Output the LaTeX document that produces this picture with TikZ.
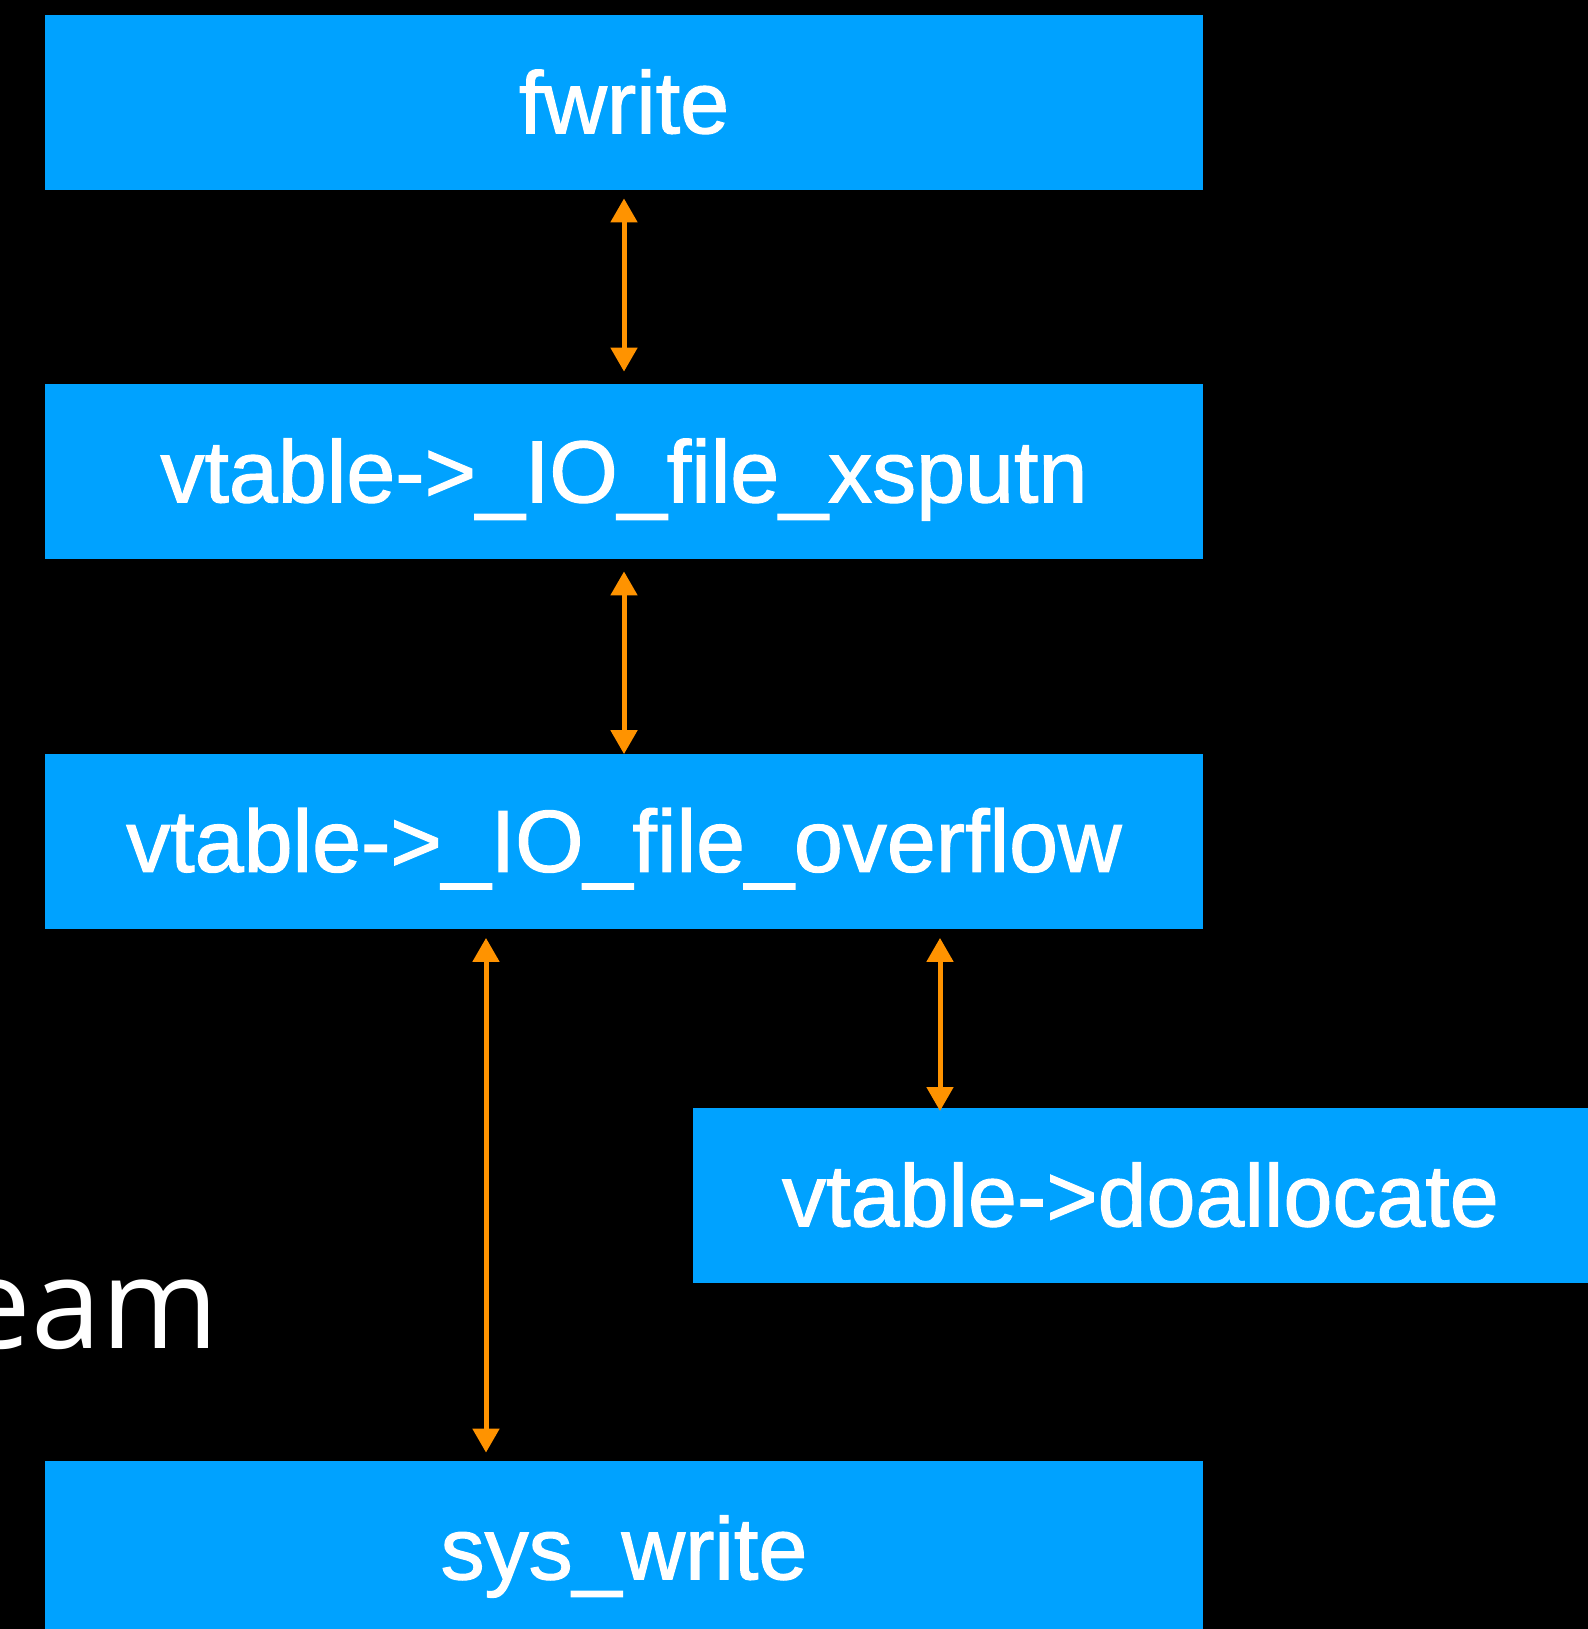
\documentclass[tikz,border=0pt]{standalone}
\usepackage{fontspec}
\setmainfont{Liberation Sans}[FakeBold=1.3]
\newfontfamily\streamfont{Open Sans}
\usepackage{tikz}
\usetikzlibrary{arrows.meta}
\definecolor{bleuK}{HTML}{00A2FF}
\definecolor{orangeK}{HTML}{FF9300}

\begin{document}
\begin{tikzpicture}[x=0.5pt, y=-0.5pt,
    box/.style={fill=bleuK, text=white, minimum width=579pt, minimum height=87.5pt,
        inner sep=0pt, text height=30.8pt, text depth=0pt, font=\fontsize{44}{44}\selectfont},
    link/.style={draw=orangeK, line width=2.5pt, {Triangle[width=13pt,length=12pt]}-{Triangle[width=13pt,length=12pt]}}]
    % Fond
    \fill[black] (0,0) rectangle (1588,1629);
    \useasboundingbox (0,0) rectangle (1588,1629);

    % Texte coupe a gauche
    \node[anchor=base east, inner sep=0pt, text=white, font=\streamfont\fontsize{63}{63}\selectfont] (stream) at (219,1348) {eam};

    % Boites
    \node[box] (fwrite) at (624,102.5) {fwrite};
    \node[box] (xsputn) at (624,471.5) {vtable->\_IO\_file\_xsputn};
    \node[box] (overflow) at (624,841) {vtable->\_IO\_file\_overflow};
    \node[box, minimum width=447.5pt] (doalloc) at (1140.5,1195.5) {vtable->doallocate};
    \node[box] (syswrite) at (624,1548.5) {sys\_write};

    % Fleches
    \draw[link] ([yshift=-4pt]fwrite.south) -- ([yshift=6pt]xsputn.north);
    \draw[link] ([yshift=-6pt]xsputn.south) -- ([yshift=-0.5pt]overflow.north);
    \draw[link] ([xshift=-69pt, yshift=-4.5pt]overflow.south) -- ([xshift=-69pt, yshift=4pt]syswrite.north);
    \draw[link] ([xshift=158pt, yshift=-4.5pt]overflow.south) -- ([xshift=-100.25pt, yshift=-1.7pt]doalloc.north);
\end{tikzpicture}
\end{document}
